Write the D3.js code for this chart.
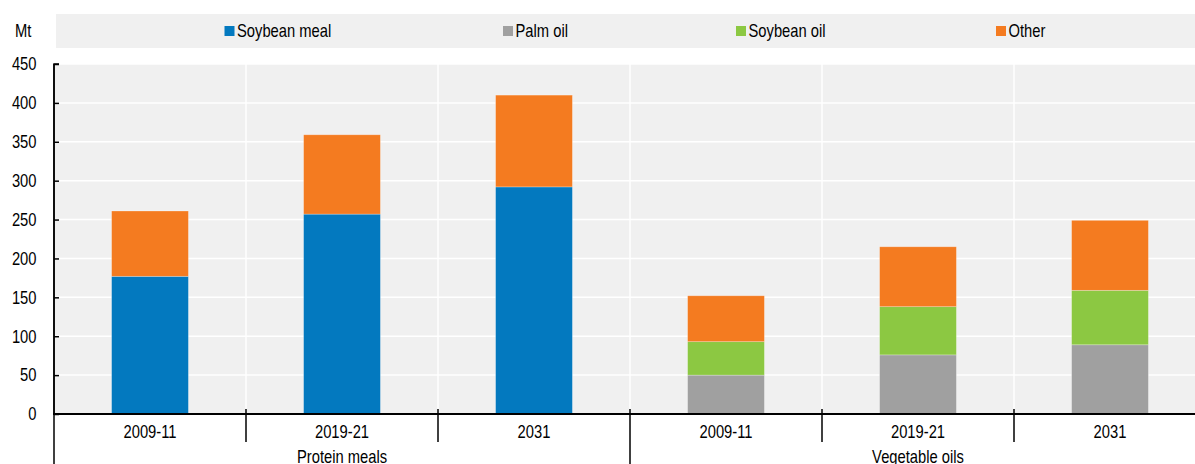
<!DOCTYPE html>
<html><head><meta charset="utf-8">
<script src="https://cdn.jsdelivr.net/npm/d3@7"></script>
<style>
html,body{margin:0;padding:0;background:#fff;overflow:hidden}
svg text{font-family:"Liberation Sans",Arial,sans-serif;font-size:18px;fill:#000}
</style></head>
<body>
<svg id="c" width="1195" height="464"></svg>
<script>
const groups = ["Protein meals", "Vegetable oils"];
const periods = ["2009-11", "2019-21", "2031"];
const seriesNames = ["Soybean meal", "Palm oil", "Soybean oil", "Other"];
const seriesColors = ["#0379bf", "#a0a0a0", "#8cc842", "#f47b20"];
const soybeanMeal = [177, 257, 292, 0, 0, 0];
const palmOil     = [0, 0, 0, 50, 76, 89];
const soybeanOil  = [0, 0, 0, 43, 62, 70];
const other       = [84, 102, 118, 59, 77, 90];
const yTicks = [0, 50, 100, 150, 200, 250, 300, 350, 400, 450];

(function () {
const svg = d3.select("#c");
const pL = 54, pR = 1206, pT = 64, pB = 414;
const SX = 0.82; // narrow-font emulation
function label(parent, tx, ty, str, anchor) {
  return parent.append("text")
    .attr("transform", `translate(${tx},${ty}) scale(${SX},1)`)
    .attr("text-anchor", anchor || "start").text(str);
}
const cats = [];
groups.forEach(g => periods.forEach(p => cats.push(g + "|" + p)));
const x = d3.scaleBand().domain(cats).range([pL, pR]).padding(0);
const y = d3.scaleLinear().domain([0, 450]).range([pB, pT]);

// legend band
svg.append("rect").attr("x", 56).attr("y", 14).attr("width", 1195 - 56).attr("height", 34).attr("fill", "#f0f0f0");
const legX = [224.5, 503, 736, 996];
seriesNames.forEach((n, i) => {
  svg.append("rect").attr("x", legX[i]).attr("y", 26).attr("width", 10).attr("height", 10).attr("fill", seriesColors[i]);
  label(svg, legX[i] + 12.5, 37, n);
});
label(svg, 15, 37, "Mt");

// plot background
svg.append("rect").attr("x", pL).attr("y", pT).attr("width", 1195 - pL).attr("height", pB - pT).attr("fill", "#f0f0f0");

// horizontal grid
svg.append("g").selectAll("line").data(yTicks.slice(1)).join("line")
  .attr("x1", pL).attr("x2", 1195).attr("y1", d => y(d)).attr("y2", d => y(d))
  .attr("stroke", "#fff").attr("stroke-width", 1.5);
// vertical grid at band boundaries
const bounds = cats.slice(1).map(c => x(c));
svg.append("g").selectAll("line").data(bounds).join("line")
  .attr("x1", d => d).attr("x2", d => d).attr("y1", pT).attr("y2", pB)
  .attr("stroke", "#fff").attr("stroke-width", 1.5);

// stacked bars
const rows = cats.map((c, i) => ({cat: c, "Soybean meal": soybeanMeal[i], "Palm oil": palmOil[i], "Soybean oil": soybeanOil[i], "Other": other[i]}));
const stack = d3.stack().keys(seriesNames)(rows);
const bw = x.bandwidth() * 0.4;
svg.append("g").selectAll("g").data(stack).join("g")
  .attr("fill", (d, i) => seriesColors[i])
  .selectAll("rect").data(d => d.filter(s => s[1] - s[0] > 0)).join("rect")
  .attr("x", d => x(d.data.cat) + (x.bandwidth() - bw) / 2)
  .attr("width", bw)
  .attr("y", d => y(d[1]))
  .attr("height", d => y(d[0]) - y(d[1]))
  .attr("stroke", "rgba(255,255,255,0.35)").attr("stroke-width", 0.75);

// y axis
const ya = d3.axisRight(y).tickValues(yTicks).tickSize(5).tickFormat("");
svg.append("g").attr("transform", `translate(${pL},0)`).call(ya)
  .call(g => g.select(".domain").attr("d", `M5,${pT}H0V${pB}`).attr("stroke", "#000").attr("stroke-width", 1.5))
  .call(g => g.selectAll(".tick line").attr("stroke", "#000").attr("stroke-width", 1.5));
const yl = svg.append("g");
yTicks.forEach(d => label(yl, 36.5, y(d) + 6.3, d, "end"));

// x axis
svg.append("line").attr("x1", pL - 1).attr("x2", 1195).attr("y1", pB).attr("y2", pB)
  .attr("stroke", "#000").attr("stroke-width", 2);
// small separators between periods
svg.append("g").selectAll("line").data(bounds.filter((d, i) => (i + 1) % 3 !== 0)).join("line")
  .attr("x1", d => d).attr("x2", d => d).attr("y1", 409).attr("y2", 442)
  .attr("stroke", "#000").attr("stroke-width", 1.5);
// group separators
const groupBounds = [pL, x(groups[1] + "|" + periods[0])];
svg.append("g").selectAll("line").data(groupBounds).join("line")
  .attr("x1", d => d).attr("x2", d => d).attr("y1", d => d === pL ? pT : 409).attr("y2", 464)
  .attr("stroke", "#000").attr("stroke-width", 1.5);
// category labels
const cl = svg.append("g");
cats.forEach(c => label(cl, x(c) + x.bandwidth() / 2, 437.5, c.split("|")[1], "middle"));
// group labels
const gl = svg.append("g");
groups.forEach(g => {
  const a = x(g + "|" + periods[0]);
  const b = x(g + "|" + periods[2]) + x.bandwidth();
  label(gl, (a + b) / 2, 462.5, g, "middle");
});
})();
</script>
</body></html>
